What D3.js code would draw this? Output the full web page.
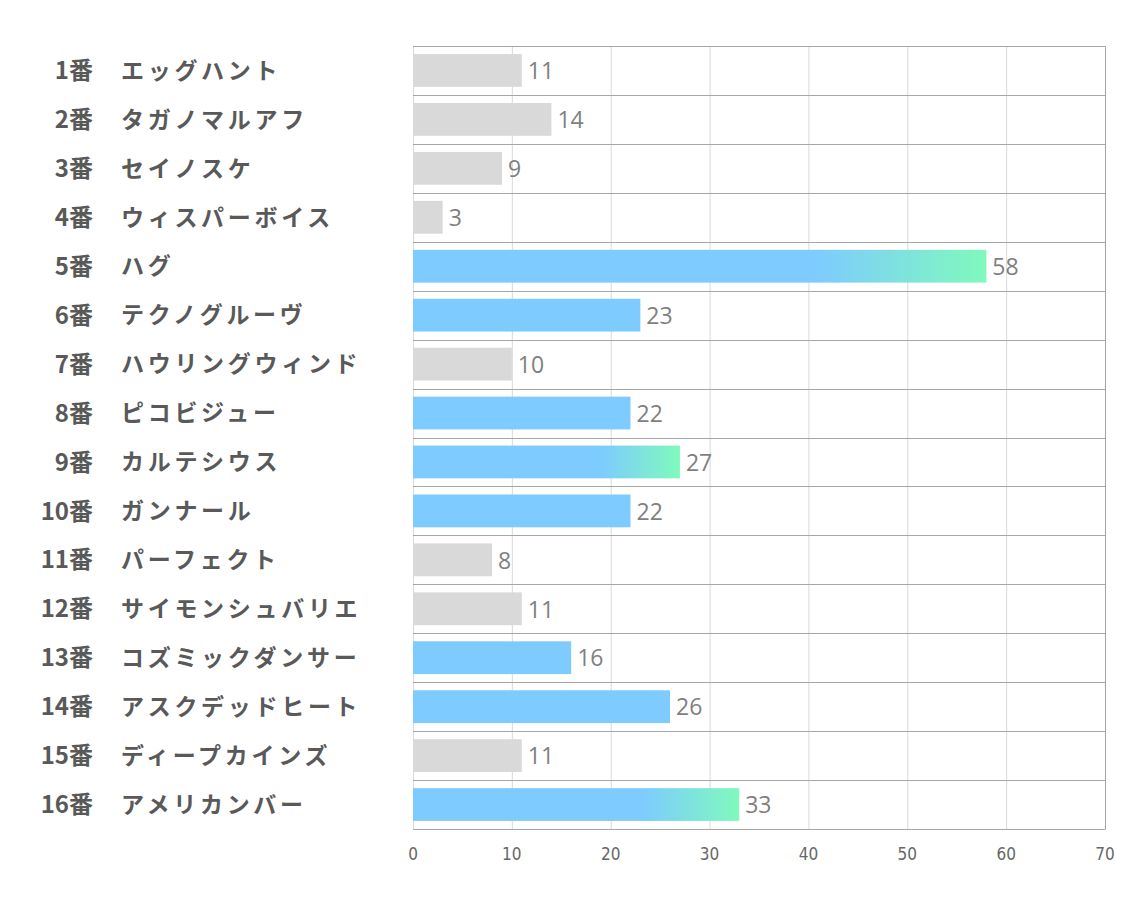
<!DOCTYPE html>
<html><head><meta charset="utf-8">
<script src="https://cdn.jsdelivr.net/npm/d3@7"></script>
<style>body{margin:0;background:#fff;}svg{display:block;}</style>
</head><body>
<svg id="c" width="1134" height="907"></svg>
<script>
const numbers = ["1番","2番","3番","4番","5番","6番","7番","8番","9番","10番","11番","12番","13番","14番","15番","16番"];
const names = ["エッグハント","タガノマルアフ","セイノスケ","ウィスパーボイス","ハグ","テクノグルーヴ","ハウリングウィンド","ピコビジュー","カルテシウス","ガンナール","パーフェクト","サイモンシュバリエ","コズミックダンサー","アスクデッドヒート","ディープカインズ","アメリカンバー"];
const values = [11,14,9,3,58,23,10,22,27,22,8,11,16,26,11,33];
const highlight = [false,false,false,false,true,true,false,true,true,true,false,false,true,true,false,true];
const gradientBars = [false,false,false,false,true,false,false,false,true,false,false,false,false,false,false,true];
const ticks = [0,10,20,30,40,50,60,70];

(function(){
const svg = d3.select("#c");
const pL = 413, pR = 1105, pT = 46, pB = 829;
const x = d3.scaleLinear().domain([0,70]).range([pL,pR]);
const y = d3.scaleBand().domain(d3.range(values.length)).range([pT,pB]).paddingInner(0.33).paddingOuter(0.165);
const rowH = (pB-pT)/values.length;

const defs = svg.append("defs");
values.forEach((v,i)=>{
  if(!gradientBars[i]) return;
  const g = defs.append("linearGradient").attr("id","g"+i).attr("x1","0").attr("x2","1").attr("y1","0").attr("y2","0");
  g.append("stop").attr("offset","0").attr("stop-color","#7dcbff");
  g.append("stop").attr("offset","0.7").attr("stop-color","#7dcbff");
  g.append("stop").attr("offset","1").attr("stop-color","#80f9bd");
});

svg.append("g").selectAll("line").data(ticks).join("line")
  .attr("x1",d=>x(d)+0.5).attr("x2",d=>x(d)+0.5).attr("y1",pT).attr("y2",pB)
  .attr("stroke",d=>d===70?"#a6a6a6":"#d9d9d9").attr("stroke-width",1);

svg.append("g").selectAll("rect").data(values).join("rect")
  .attr("x",x(0)).attr("y",(d,i)=>y(i)).attr("height",y.bandwidth())
  .attr("width",d=>x(d)-x(0))
  .attr("fill",(d,i)=>gradientBars[i]?`url(#g${i})`:(highlight[i]?"#7dcbff":"#d9d9d9"));

svg.append("g").selectAll("line").data(d3.range(values.length+1)).join("line")
  .attr("x1",pL).attr("x2",pR+0.5)
  .attr("y1",d=>Math.round(pT+d*rowH)+0.5).attr("y2",d=>Math.round(pT+d*rowH)+0.5)
  .attr("stroke","#a6a6a6").attr("stroke-width",1);

svg.append("g").selectAll("text").data(values).join("text")
  .attr("x",d=>x(d)+6).attr("y",(d,i)=>y(i)+y.bandwidth()/2)
  .attr("dy","0.38em").attr("fill","#7f7f7f")
  .style("font-family","'Open Sans','Noto Sans',sans-serif").style("font-size","23px")
  .text(d=>d);

svg.append("g").selectAll("text").data(numbers).join("text")
  .attr("x",93).attr("y",(d,i)=>y(i)+y.bandwidth()/2).attr("dy","0.36em")
  .attr("text-anchor","end").attr("fill","#595959")
  .style("font-family","'Noto Sans CJK JP',sans-serif").style("font-weight","bold").style("font-size","24px")
  .text(d=>d);

svg.append("g").selectAll("text").data(names).join("text")
  .attr("x",121).attr("y",(d,i)=>y(i)+y.bandwidth()/2).attr("dy","0.36em")
  .attr("fill","#595959")
  .style("font-family","'Noto Sans CJK JP',sans-serif").style("font-weight","bold").style("font-size","23px")
  .style("letter-spacing","3.7px")
  .text(d=>d);

svg.append("g").selectAll("text").data(ticks).join("text")
  .attr("x",d=>x(d)).attr("y",860).attr("text-anchor","middle")
  .attr("fill","#666666")
  .style("font-family","'DejaVu Sans Condensed','Liberation Sans Narrow',sans-serif").style("font-size","17px")
  .text(d=>d);
})();
</script>
</body></html>
